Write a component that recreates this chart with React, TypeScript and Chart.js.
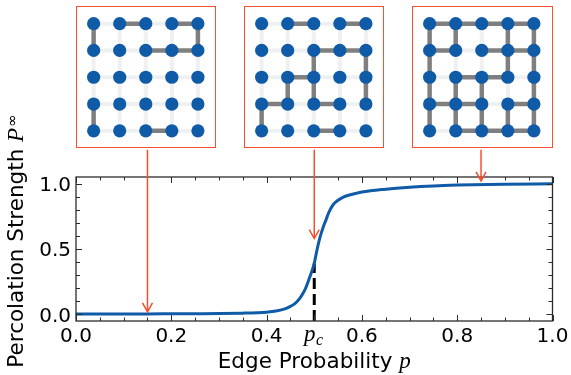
import React, { useEffect, useRef } from "react";
import { Chart, registerables } from "chart.js";

Chart.register(...registerables);

// ---------- data ----------
const edgeProbability = [
  0, 0.05, 0.1, 0.15, 0.2, 0.25, 0.3, 0.35, 0.38, 0.4, 0.42, 0.44, 0.45, 0.46, 0.47, 0.48,
  0.49, 0.5, 0.505, 0.51, 0.515, 0.52, 0.525, 0.53, 0.54, 0.55, 0.56, 0.58, 0.6, 0.65, 0.7,
  0.75, 0.8, 0.9, 1.0,
];
const percolationStrength = [
  0.003, 0.003, 0.004, 0.004, 0.005, 0.006, 0.007, 0.01, 0.013, 0.017, 0.026, 0.045, 0.062,
  0.085, 0.125, 0.185, 0.28, 0.39, 0.48, 0.56, 0.625, 0.68, 0.725, 0.775, 0.84, 0.872, 0.895,
  0.918, 0.935, 0.957, 0.972, 0.982, 0.988, 0.995, 0.998,
];
const criticalP = 0.5;
const criticalStrength = 0.39;

const xTickValues = [0, 0.2, 0.4, 0.6, 0.8, 1.0];
const xTickLabels = ["0.0", "0.2", "0.4", "0.6", "0.8", "1.0"];
const yTickValues = [0, 0.5, 1.0];
const yTickLabels = ["0.0", "0.5", "1.0"];

const insetProbabilities = [0.15, 0.5, 0.85];
const arrowTargets = [0.02, 0.58, 1.02];

// lattice edges: horizontal [row, col] joins (row,col)-(row,col+1); vertical [row,col] joins (row,col)-(row+1,col)
const lowH = [[0, 1], [0, 3], [1, 2], [1, 3], [4, 2]];
const lowV = [[0, 0], [0, 4], [3, 0]];
const midH = [[0, 1], [0, 3], [1, 2], [1, 3], [2, 1], [3, 0], [3, 2], [4, 2]];
const midV = [[1, 2], [2, 2], [1, 4], [2, 4], [2, 1], [3, 0]];
const highH = [
  [0, 0], [0, 1], [0, 2], [0, 3], [1, 0], [1, 2], [1, 3], [2, 1], [2, 2], [3, 0], [3, 1], [3, 3],
  [4, 1], [4, 2], [4, 3],
];
const highV = [
  [0, 0], [1, 0], [2, 0], [3, 0], [0, 1], [2, 1], [3, 1], [2, 2], [3, 2], [0, 3], [1, 3], [3, 3],
  [0, 4], [1, 4], [2, 4], [3, 4],
];

// ---------- styles ----------
const BLUE = "#105ba7";
const RED = "#f4502f";
const SANS = '"DejaVu Sans", sans-serif';
const SERIF = '"Liberation Serif", "DejaVu Serif", serif';
const FONT = `20px ${SANS}`;
const TITLE_FONT = `21.5px ${SANS}`;
const TITLE_IT = `italic 23px ${SERIF}`;

const INSET_LEFTS = [75.7, 243.7, 412.3];
const INSET_TOP = 5.7;
const INSET_W = 140.3;
const INSET_H = 142.6;

function Inset({ h, v, left }: { h: number[][]; v: number[][]; left: number }) {
  const ref = useRef<HTMLCanvasElement>(null);
  useEffect(() => {
    const active = new Set<string>([
      ...h.map((e) => `h${e[0]}_${e[1]}`),
      ...v.map((e) => `v${e[0]}_${e[1]}`),
    ]);
    const datasets: any[] = [];
    const nodes: any[] = [];
    for (let r = 0; r < 5; r++) for (let c = 0; c < 5; c++) nodes.push({ x: c, y: r });
    datasets.push({
      data: nodes,
      pointRadius: 6.6,
      pointBackgroundColor: BLUE,
      pointBorderColor: BLUE,
      pointBorderWidth: 0,
      showLine: false,
      order: 0,
    });
    const addEdge = (isOn: boolean, a: { x: number; y: number }, b: { x: number; y: number }) => {
      datasets.push({
        data: [a, b],
        showLine: true,
        pointRadius: 0,
        backgroundColor: "transparent",
        borderColor: isOn ? "#7f7f7f" : "#eff0f2",
        borderWidth: isOn ? 4.5 : 4,
        borderCapStyle: "butt",
        order: isOn ? 1 : 2,
      });
    };
    for (let r = 0; r < 5; r++) {
      for (let c = 0; c < 5; c++) {
        if (c < 4) addEdge(active.has(`h${r}_${c}`), { x: c, y: r }, { x: c + 1, y: r });
        if (r < 4) addEdge(active.has(`v${r}_${c}`), { x: c, y: r }, { x: c, y: r + 1 });
      }
    }
    const chart = new Chart(ref.current!, {
      type: "scatter",
      data: { datasets },
      options: {
        animation: false,
        responsive: false,
        events: [],
        layout: { padding: 0 },
        plugins: { legend: { display: false }, tooltip: { enabled: false } },
        scales: {
          x: { type: "linear", display: false, min: -0.385, max: 4.364 },
          y: { type: "linear", display: false, min: -0.375, max: 4.32, reverse: true },
        },
      },
    });
    return () => chart.destroy();
  }, []);
  return (
    <div
      style={{
        position: "absolute",
        left,
        top: INSET_TOP,
        width: INSET_W,
        height: INSET_H,
        border: `1.5px solid ${RED}`,
        boxSizing: "border-box",
        background: "#fff",
      }}
    >
      <canvas ref={ref} width={137} height={139} style={{ display: "block" }} />
    </div>
  );
}

const axesPlugin = {
  id: "mplAxes",
  afterDraw(chart: any) {
    const { ctx, chartArea: a, scales } = chart;
    const xs = scales.x;
    const ys = scales.y;
    ctx.save();
    // frame
    ctx.strokeStyle = "#2b2b2b";
    ctx.lineWidth = 1.3;
    ctx.strokeRect(a.left, a.top, a.right - a.left, a.bottom - a.top);
    // x ticks (inward, both sides)
    ctx.lineWidth = 1;
    for (let i = 0; i <= 20; i++) {
      const val = i * 0.05;
      const major = i % 4 === 0 || i === 10;
      const len = major ? 6 : 3.5;
      const px = Math.round(xs.getPixelForValue(val)) + 0.5;
      ctx.beginPath();
      ctx.moveTo(px, a.bottom);
      ctx.lineTo(px, a.bottom - len);
      ctx.moveTo(px, a.top);
      ctx.lineTo(px, a.top + len);
      ctx.stroke();
    }
    for (let i = 0; i <= 10; i++) {
      const val = i * 0.1;
      const major = i % 5 === 0;
      const len = major ? 6 : 4;
      const py = Math.round(ys.getPixelForValue(val)) + 0.5;
      ctx.beginPath();
      ctx.moveTo(a.left, py);
      ctx.lineTo(a.left + len, py);
      ctx.moveTo(a.right, py);
      ctx.lineTo(a.right - len, py);
      ctx.stroke();
    }
    // tick labels
    ctx.fillStyle = "#000";
    ctx.font = FONT;
    ctx.textAlign = "center";
    ctx.textBaseline = "alphabetic";
    xTickValues.forEach((v, i) => {
      ctx.fillText(xTickLabels[i], xs.getPixelForValue(v), a.bottom + 20.7);
    });
    ctx.textAlign = "right";
    yTickValues.forEach((v, i) => {
      ctx.fillText(yTickLabels[i], a.left - 5, ys.getPixelForValue(v) + 7.3);
    });
    // p_c label
    ctx.textAlign = "left";
    const pcx = xs.getPixelForValue(criticalP);
    const subFont = `italic 16px ${SERIF}`;
    ctx.font = TITLE_IT;
    const wp = ctx.measureText("p").width;
    ctx.font = subFont;
    const wc = ctx.measureText("c").width;
    const startPc = pcx - (wp + wc) / 2 - 1;
    ctx.font = TITLE_IT;
    ctx.fillText("p", startPc, a.bottom + 19.5);
    ctx.font = subFont;
    ctx.fillText("c", startPc + wp + 0.5, a.bottom + 23.5);
    // x title
    ctx.font = TITLE_FONT;
    const xt = "Edge Probability ";
    const wxt = ctx.measureText(xt).width;
    ctx.font = TITLE_IT;
    const wxp = ctx.measureText("p").width;
    const xc = (a.left + a.right) / 2;
    const xStart = xc - (wxt + wxp) / 2;
    ctx.font = TITLE_FONT;
    ctx.fillText(xt, xStart, 368);
    ctx.font = TITLE_IT;
    ctx.fillText("p", xStart + wxt, 368);
    // y title
    ctx.save();
    ctx.translate(23, 241);
    ctx.rotate(-Math.PI / 2);
    ctx.font = TITLE_FONT;
    const yt = "Percolation Strength ";
    const wyt = ctx.measureText(yt).width;
    ctx.font = TITLE_IT;
    const wP = ctx.measureText("P").width;
    const infFont = `15px ${SANS}`;
    ctx.font = infFont;
    const wInf = ctx.measureText("\u221e").width;
    const yStart = -(wyt + wP + wInf + 1) / 2;
    ctx.font = TITLE_FONT;
    ctx.fillText(yt, yStart, 0);
    ctx.font = TITLE_IT;
    ctx.fillText("P", yStart + wyt, 0);
    ctx.font = infFont;
    ctx.fillText("\u221e", yStart + wyt + wP + 1, -6);
    ctx.restore();
    // arrows from insets
    ctx.strokeStyle = RED;
    ctx.lineWidth = 1.5;
    insetProbabilities.forEach((p, i) => {
      const x = xs.getPixelForValue(p);
      const y0 = INSET_TOP + INSET_H + 1.5;
      const y1 = ys.getPixelForValue(arrowTargets[i]);
      ctx.beginPath();
      ctx.moveTo(x, y0);
      ctx.lineTo(x, y1);
      ctx.moveTo(x - 5, y1 - 9);
      ctx.lineTo(x, y1);
      ctx.lineTo(x + 5, y1 - 9);
      ctx.stroke();
    });
    ctx.restore();
  },
};

export default function App() {
  const ref = useRef<HTMLCanvasElement>(null);
  useEffect(() => {
    document.body.style.margin = "0";
    const curve = edgeProbability.map((p, i) => ({ x: p, y: percolationStrength[i] }));
    const dashed = [
      { x: criticalP, y: -0.05 },
      { x: criticalP, y: criticalStrength },
    ];
    const chart = new Chart(ref.current!, {
      type: "line",
      data: {
        datasets: [
          {
            data: curve,
            borderColor: BLUE,
            borderWidth: 3,
            pointRadius: 0,
            cubicInterpolationMode: "monotone",
            order: 0,
          } as any,
          {
            data: dashed,
            borderColor: "#000",
            borderWidth: 3,
            borderDash: [11, 5],
            pointRadius: 0,
            order: 1,
          } as any,
        ],
      },
      options: {
        animation: false,
        responsive: false,
        events: [],
        layout: { padding: { left: 76, top: 177, right: 18.5, bottom: 54 } },
        plugins: { legend: { display: false }, tooltip: { enabled: false } },
        scales: {
          x: { type: "linear", display: false, min: 0, max: 1 },
          y: { type: "linear", display: false, min: -0.05, max: 1.05 },
        },
      },
      plugins: [axesPlugin],
    });
    return () => chart.destroy();
  }, []);
  return (
    <div style={{ position: "relative", width: 571, height: 375, background: "#fff", overflow: "hidden" }}>
      <canvas ref={ref} width={571} height={375} style={{ position: "absolute", left: 0, top: 0 }} />
      <Inset h={lowH} v={lowV} left={INSET_LEFTS[0]} />
      <Inset h={midH} v={midV} left={INSET_LEFTS[1]} />
      <Inset h={highH} v={highV} left={INSET_LEFTS[2]} />
    </div>
  );
}
